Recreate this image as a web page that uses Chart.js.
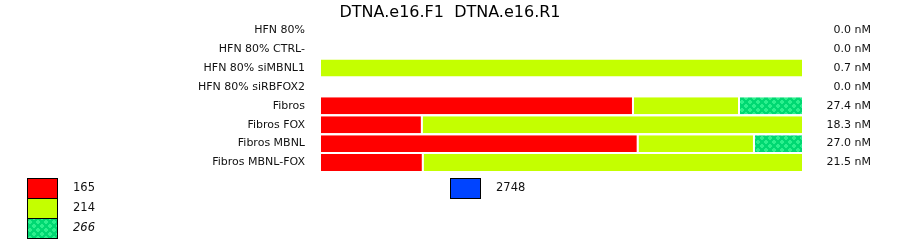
<!DOCTYPE html>
<html>
<head>
<meta charset="utf-8">
<script src="https://cdn.jsdelivr.net/npm/chart.js@4.4.1/dist/chart.umd.min.js"></script>
<style>
html,body{margin:0;padding:0;background:#fff;}
#wrap{width:900px;height:242px;position:relative;}
</style>
</head>
<body>
<div id="wrap"><canvas id="c" width="900" height="242"></canvas></div>
<script>
// ---- data ----
const chartTitle = "DTNA.e16.F1  DTNA.e16.R1";
const categories = ["HFN 80%", "HFN 80% CTRL-", "HFN 80% siMBNL1", "HFN 80% siRBFOX2",
  "Fibros", "Fibros FOX", "Fibros MBNL", "Fibros MBNL-FOX"];
const totalLabels = ["0.0 nM", "0.0 nM", "0.7 nM", "0.0 nM", "27.4 nM", "18.3 nM", "27.0 nM", "21.5 nM"];
const seriesNames = ["165", "214", "266", "2748"];
// share of each product in percent of the row total
const share165  = [0, 0, 0,   0, 64.8,  21.1, 65.8,  21.3];
const share214  = [0, 0, 100, 0, 21.95, 78.9, 24.05, 78.7];
const share266  = [0, 0, 0,   0, 13.25, 0,    10.15, 0];
const share2748 = [0, 0, 0,   0, 0,     0,    0,     0];

// ---- pattern for 266 ----
function makePattern() {
  const t = document.createElement('canvas');
  t.width = 8; t.height = 8;
  const g = t.getContext('2d');
  g.fillStyle = '#00d872';
  g.fillRect(0, 0, 8, 8);
  g.fillStyle = '#2cf08e';
  // rounded plus shapes in a staggered lattice
  [[1,1],[5,5]].forEach(([x,y]) => {
    g.fillRect(x, y - 1, 2, 4);
    g.fillRect(x - 1, y, 4, 2);
  });
  const c = document.getElementById('c').getContext('2d');
  return c.createPattern(t, 'repeat');
}
const pat = makePattern();

const colors = ['#ff0000', '#c4ff00', pat, '#0044ff'];
const shares = [share165, share214, share266, share2748];

const datasets = seriesNames.map((n, i) => ({
  label: n,
  data: shares[i],
  backgroundColor: colors[i],
  borderColor: '#ffffff',
  borderWidth: {left: 2, right: 0, top: 0, bottom: 0},
  borderSkipped: false,
  yAxisID: 'y',
  categoryPercentage: 1.0,
  barPercentage: 17 / 19
}));

const FONT = "'DejaVu Sans', sans-serif";

const overlay = {
  id: 'overlay',
  afterDraw(chart) {
    const ctx = chart.ctx;
    ctx.save();
    // title
    ctx.fillStyle = '#000';
    ctx.font = "16px " + FONT;
    ctx.textAlign = 'center';
    ctx.textBaseline = 'alphabetic';
    ctx.fillText(chartTitle, 450, 17);
    // legend
    const slots = [[27, 178], [27, 198], [27, 218], [450, 178]];
    chart.data.datasets.forEach((ds, i) => {
      const [x, y] = slots[i];
      ctx.fillStyle = ds.backgroundColor;
      ctx.fillRect(x, y, 31, 20);
      ctx.strokeStyle = '#000';
      ctx.lineWidth = 1;
      ctx.strokeRect(x + 0.5, y + 0.5, 30, 20);
      ctx.fillStyle = '#111';
      ctx.font = (i === 2 ? 'italic ' : '') + "11.5px " + FONT;
      ctx.textAlign = 'left';
      ctx.textBaseline = 'middle';
      ctx.fillText(ds.label, x + 46, y + 10.5);
    });
    ctx.restore();
  }
};

new Chart(document.getElementById('c'), {
  type: 'bar',
  data: { labels: categories, datasets },
  options: {
    indexAxis: 'y',
    responsive: false,
    animation: false,
    devicePixelRatio: 1,
    layout: { padding: { top: 20, bottom: 70, left: 0, right: 29 } },
    plugins: { legend: { display: false }, title: { display: false }, tooltip: { enabled: false } },
    scales: {
      x: { stacked: true, min: 0, max: 100, display: false },
      y: {
        stacked: true,
        position: 'left',
        grid: { display: false, drawTicks: false, tickLength: 0 },
        border: { display: false },
        ticks: { padding: 14, color: '#111', font: { family: FONT, size: 11 }, autoSkip: false },
        afterFit(s) { s.width = 319; }
      },
      y2: {
        type: 'category',
        position: 'right',
        labels: totalLabels,
        offset: true,
        grid: { display: false, drawTicks: false, tickLength: 0 },
        border: { display: false },
        ticks: { crossAlign: 'far', padding: 0, color: '#111', font: { family: FONT, size: 11 }, autoSkip: false },
        afterFit(s) { s.width = 69; }
      }
    }
  },
  plugins: [overlay]
});
</script>
</body>
</html>
